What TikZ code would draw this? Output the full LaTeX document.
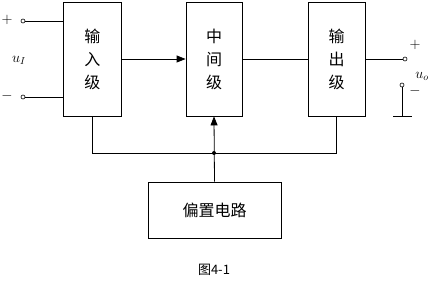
\documentclass[tikz,border=0pt]{standalone}
\usepackage{fontspec}
\newfontfamily\cjk{Noto Sans CJK SC}
\usetikzlibrary{arrows.meta}
\begin{document}
\begin{tikzpicture}[x=1pt,y=-1pt,line width=0.8pt,
  blk/.style={draw,minimum width=#1,inner sep=0pt,font=\cjk\fontsize{16}{23}\selectfont,align=center},
  term/.style={draw,circle,fill=white,inner sep=0pt,minimum size=4pt,line width=0.6pt},
  lbl/.style={font=\fontsize{14}{14}\selectfont},
  arr/.style={-{Triangle[length=9pt,width=7pt]}}]
\useasboundingbox (0,0) rectangle (432,288);
\node[blk=58pt,minimum height=114pt] (in) at (92.5,59) {输\\入\\级};
\node[blk=56pt,minimum height=114pt] (mid) at (214,59) {中\\间\\级};
\node[blk=57pt,minimum height=114pt] (out) at (336.5,59) {输\\出\\级};
\node[draw,minimum width=133pt,minimum height=56pt,inner sep=0pt,font=\cjk\fontsize{16}{16}\selectfont] (bias) at (214.5,210) {偏置电路};
\node[font=\cjk\fontsize{13}{13}\selectfont] (cap) at (214,270) {图4-1};
% input terminals
\node[term] (ip) at (23,21) {};
\node[term] (im) at (23,97) {};
\node[lbl] (pp) at (7,20) {$+$};
\node[lbl] (pm) at (7,96) {$-$};
\node[lbl] (ui) at (19,60) {$u_I$};
\coordinate (ipe) at (in.west |- ip);
\coordinate (ime) at (in.west |- im);
\draw (ip) -- (ipe);
\draw (im) -- (ime);
% forward path
\draw[arr] (in.east) -- (mid.west);
\draw (mid.east) -- (out.west);
% output terminals
\node[term] (op) at (405,59) {};
\node[term] (om) at (402,85) {};
\draw (out.east) -- (op);
\coordinate (gnd) at (402,116);
\draw (om) -- (gnd);
\coordinate (gl) at (393,116);
\coordinate (gr) at (412,116);
\draw (gl) -- (gr);
\node[lbl] (op2) at (415,45) {$+$};
\node[lbl] (om2) at (415,91) {$-$};
\node[lbl] (uo) at (422,76) {$u_o$};
% bias feedback
\coordinate (jn) at (214,153);
\coordinate (a1) at (in.south |- jn);
\coordinate (a2) at (out.south |- jn);
\draw (in.south) -- (a1) -- (a2) -- (out.south);
\draw[arr] (bias.north) -- (mid.south);
\fill (jn) circle (2pt);
\end{tikzpicture}
\end{document}
